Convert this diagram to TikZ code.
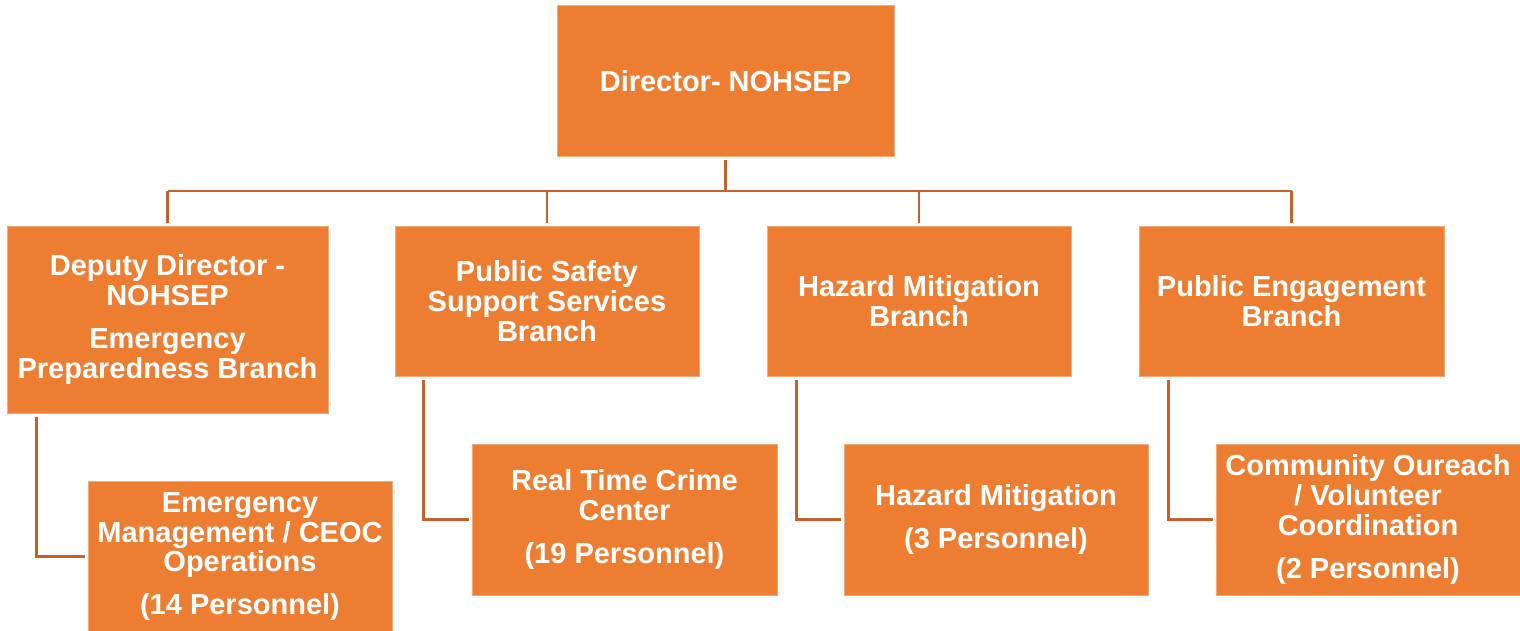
\documentclass[tikz,border=0pt]{standalone}
\usepackage{fontspec}
\setmainfont{Liberation Sans}
\definecolor{boxfill}{HTML}{ED7D31}
\definecolor{boxedge}{HTML}{F3A878}
\definecolor{linkc}{HTML}{C4622D}
\begin{document}
\begin{tikzpicture}[x=1pt,y=-1pt,
  orgbox/.style={rectangle, fill=boxfill, draw=boxedge, line width=1pt, inner sep=0pt,
    text=white, align=center, font=\fontsize{29}{29.8}\selectfont\bfseries},
  link/.style={draw=linkc, line width=2.5pt, line cap=butt, line join=miter}]
\useasboundingbox (0,0) rectangle (1520,631);
% top
\node[orgbox, minimum width=337pt, minimum height=151pt] (dir) at (725.5,81.5) {Director- NOHSEP};
% branches
\node[orgbox, minimum width=321pt, minimum height=187pt] (dep) at (167.5,319.5)
  {Deputy Director -\\NOHSEP\\[13pt]Emergency\\Preparedness Branch};
\node[orgbox, minimum width=304pt, minimum height=150pt] (pss) at (547,301)
  {Public Safety\\Support Services\\Branch};
\node[orgbox, minimum width=304pt, minimum height=150pt] (hmb) at (919,301)
  {Hazard Mitigation\\Branch};
\node[orgbox, minimum width=305pt, minimum height=150pt] (peb) at (1291.5,301)
  {Public Engagement\\Branch};
% units
\node[orgbox, minimum width=304pt, minimum height=151pt] (em) at (240,556.5)
  {Emergency\\Management / CEOC\\Operations\\[13pt](14 Personnel)};
\node[orgbox, minimum width=305pt, minimum height=151pt] (rtc) at (624.5,519.5)
  {Real Time Crime\\Center\\[13pt](19 Personnel)};
\node[orgbox, minimum width=304pt, minimum height=151pt] (hm) at (996,519.5)
  {Hazard Mitigation\\[13pt](3 Personnel)};
\node[orgbox, minimum width=304pt, minimum height=151pt] (co) at (1368,519.5)
  {Community Oureach\\/ Volunteer\\Coordination\\[13pt](2 Personnel)};
% bus
\coordinate (busl) at (167.5,191);
\coordinate (busr) at (1291.5,191);
\draw[link, shorten <=3pt] (dir.south) -- (dir.south |- busl);
\draw[link] (busl) -- (busr);
\foreach \b in {dep,pss,hmb,peb}{
  \draw[link, shorten >=3pt] (\b.north |- busl) -- (\b.north);
}
% sub links
\draw[link, shorten <=3pt, shorten >=3pt] ([xshift=30pt]dep.south west) |- (em.west);
\draw[link, shorten <=3pt, shorten >=3pt] ([xshift=29pt]pss.south west) |- (rtc.west);
\draw[link, shorten <=3pt, shorten >=3pt] ([xshift=30pt]hmb.south west) |- (hm.west);
\draw[link, shorten <=3pt, shorten >=3pt] ([xshift=30pt]peb.south west) |- (co.west);
\end{tikzpicture}
\end{document}
